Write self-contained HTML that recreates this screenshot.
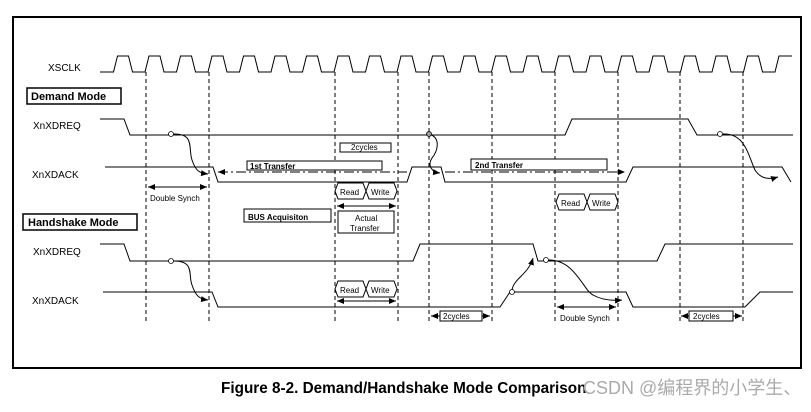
<!DOCTYPE html>
<html><head><style>
body{margin:0;background:#fff;width:811px;height:407px;overflow:hidden}
text{font-family:"Liberation Sans",Arial,sans-serif;fill:#000}
</style></head><body>
<svg width="811" height="407" viewBox="0 0 811 407" xmlns="http://www.w3.org/2000/svg">
<defs>
<marker id="ah" markerWidth="8" markerHeight="8" refX="7" refY="4" orient="auto-start-reverse" markerUnits="userSpaceOnUse"><path d="M0,1 L7,4 L0,7z" fill="#000"/></marker>
</defs>
<rect x="13" y="17" width="788" height="351" fill="none" stroke="#000" stroke-width="2"/>
<g fill="none" stroke="#000" stroke-width="1">
<path d="M100 72 H113.5 l4 -16 h11 l4 16 h12.5 l4 -16 h11 l4 16 h12.5 l4 -16 h11 l4 16 h12.5 l4 -16 h11 l4 16 h12.5 l4 -16 h11 l4 16 h12.5 l4 -16 h11 l4 16 h12.5 l4 -16 h11 l4 16 h12.5 l4 -16 h11 l4 16 h12.5 l4 -16 h11 l4 16 h12.5 l4 -16 h11 l4 16 h12.5 l4 -16 h11 l4 16 h12.5 l4 -16 h11 l4 16 h12.5 l4 -16 h11 l4 16 h12.5 l4 -16 h11 l4 16 h12.5 l4 -16 h11 l4 16 h12.5 l4 -16 h11 l4 16 h12.5 l4 -16 h11 l4 16 h12.5 l4 -16 h11 l4 16 h12.5 l4 -16 h11 l4 16 h12.5 l4 -16 h11 l4 16 h12.5 l4 -16 h11 l4 16 h12.5 l4 -16 h13"/>
<g stroke-dasharray="4,3">
<path d="M146 72V322M209 72V322M335 72V322M398 72V322M429 72V322M492 72V322M555 72V322M618 72V322M680 72V322M743 72V322"/>
</g>
<path d="M100 119H124L130 135H565L572 119H688L697 135H793"/>
<path d="M105 167H213L218 182H407L412 167H441L445 182H626L633 167H782L791 182"/>
<path d="M218 172H407M445 172H625" stroke-dasharray="10,3,2,3" marker-start="url(#ah)" marker-end="url(#ah)"/>
<path d="M174 134C195 134 188 148 192 160C196 172 200 173 208 174" marker-end="url(#ah)"/>
<path d="M429 134C442 138 437 152 432 158C427 166 432 172 440 173" marker-end="url(#ah)"/>
<path d="M723 134C745 133 748 155 755 170C760 178 768 180 778 177" marker-end="url(#ah)"/>
<path d="M100 244H124L130 261H413L420 244H533L538 261H657L665 244H793"/>
<path d="M103 292H212L218 307H500L510 292H626L633 307H745L760 292H793"/>
<path d="M174 261C195 261 188 275 192 285C196 297 200 299 208 300" marker-end="url(#ah)"/>
<path d="M512 290C514 278 528 275 533 258" marker-end="url(#ah)"/>
<path d="M549 260C575 260 583 290 593 295C600 299 610 301 622 300" marker-end="url(#ah)"/>
<path d="M148 187H207" marker-start="url(#ah)" marker-end="url(#ah)"/>
<path d="M337 206H396" marker-start="url(#ah)" marker-end="url(#ah)"/>
<path d="M337 301H396" marker-start="url(#ah)" marker-end="url(#ah)"/>
<path d="M431 316H490" marker-start="url(#ah)" marker-end="url(#ah)"/>
<path d="M681 316H742" marker-start="url(#ah)" marker-end="url(#ah)"/>
<path d="M557 307H616" marker-start="url(#ah)" marker-end="url(#ah)"/>
<path d="M338 183H363L366 191L363 199H338L335 191Z"/>
<path d="M369 183H394L397 191L394 199H369L366 191Z"/>
<path d="M338 281H363L366 289L363 297H338L335 289Z"/>
<path d="M369 281H394L397 289L394 297H369L366 289Z"/>
<path d="M559 194H584L587 202L584 210H559L556 202Z"/>
<path d="M590 194H615L618 202L615 210H590L587 202Z"/>
</g>
<g fill="#fff" stroke="#000">
<rect x="27" y="88" width="94" height="16" stroke-width="1.5"/>
<rect x="23" y="214" width="114" height="16" stroke-width="1.5"/>
<rect x="340" y="143" width="51" height="9"/>
<rect x="247" y="161" width="135" height="9"/>
<rect x="471" y="159" width="136" height="11"/>
<rect x="244" y="209" width="87" height="13"/>
<rect x="338" y="211" width="56" height="22"/>
<rect x="440" y="311" width="42" height="10"/>
<rect x="689" y="311" width="44" height="10"/>
</g>
<g fill="#fff" stroke="#000" stroke-width="0.8">
<circle cx="171" cy="134" r="2.5"/><circle cx="429" cy="134" r="2.5" fill="#999"/><circle cx="720" cy="134" r="2.5"/>
<circle cx="171" cy="261" r="2.5"/><circle cx="546" cy="260" r="2.5"/><circle cx="512" cy="292" r="2.5"/>
</g>
<g font-size="10">
<text x="48" y="71">XSCLK</text>
<text x="33" y="129">XnXDREQ</text>
<text x="32" y="178">XnXDACK</text>
<text x="33" y="255">XnXDREQ</text>
<text x="32" y="304">XnXDACK</text>
</g>
<g font-size="11" font-weight="bold">
<text x="31" y="100">Demand Mode</text>
<text x="28" y="226">Handshake Mode</text>
</g>
<g font-size="8">
<text x="351" y="150">2cycles</text>
<text x="250" y="169" font-weight="bold">1st Transfer</text>
<text x="475" y="168" font-weight="bold">2nd Transfer</text>
<text x="248" y="220" font-weight="bold">BUS Acquisiton</text>
<text x="150" y="201">Double Synch</text>
<text x="560" y="321">Double Synch</text>
<text x="340" y="195">Read</text><text x="371" y="195">Write</text>
<text x="340" y="293">Read</text><text x="371" y="293">Write</text>
<text x="561" y="206">Read</text><text x="592" y="206">Write</text>
<text x="355" y="221">Actual</text><text x="350" y="231">Transfer</text>
<text x="443" y="319">2cycles</text>
<text x="693" y="319">2cycles</text>
</g>
<text x="221" y="393" font-size="15.3" font-weight="bold">Figure 8-2. Demand/Handshake Mode Comparison</text>
<text x="583" y="394" font-size="18" style="fill:#aaa;font-family:'Liberation Sans','Noto Sans CJK SC',sans-serif">CSDN @编程界的小学生、</text>
</svg>
</body></html>
